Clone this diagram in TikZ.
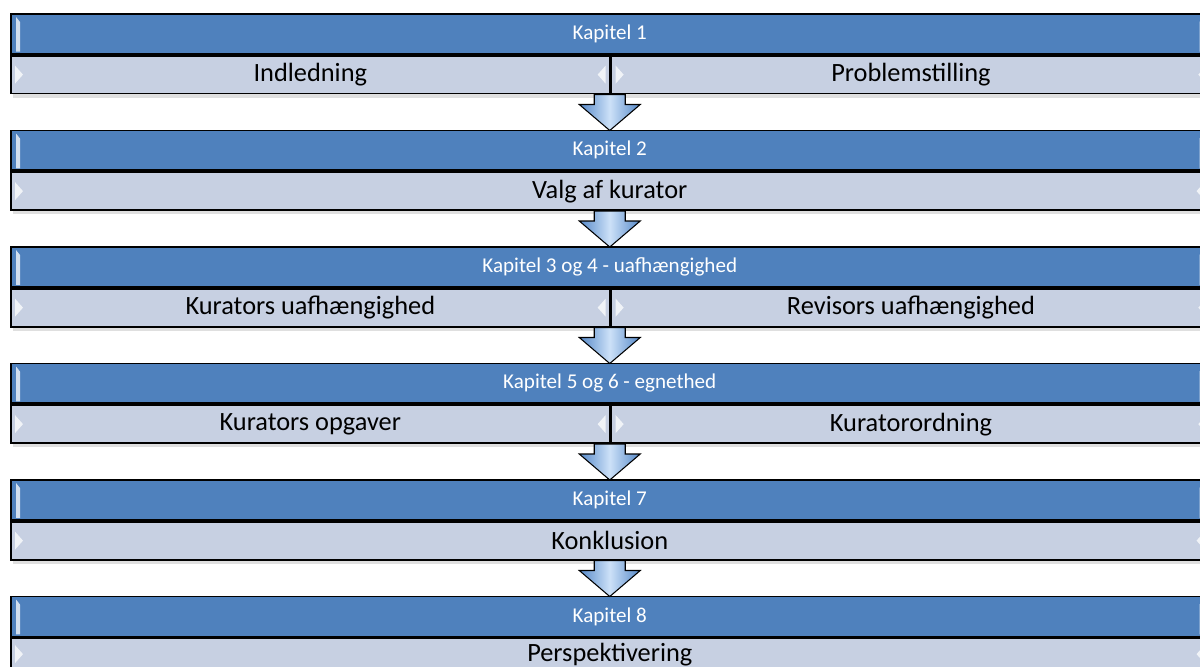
\documentclass[tikz,border=0pt]{standalone}
\usepackage{fontspec}
\setmainfont{Carlito}
\usetikzlibrary{calc,shadows}

\definecolor{kapblue}{RGB}{79,129,189}
\definecolor{kaplight}{RGB}{199,208,226}
\definecolor{pilblue}{RGB}{84,136,200}
\definecolor{pilglow}{RGB}{205,225,248}

\tikzset{
  header/.style={draw=black, line width=1pt, fill=kapblue, text=white,
    minimum width=23.96cm, minimum height=0.8cm, inner sep=0pt,
    anchor=north west, font=\fontsize{12}{14}\selectfont,
    drop shadow={opacity=0.25, shadow xshift=0.5mm, shadow yshift=-0.8mm}},
  fullrow/.style={draw=black, line width=1pt, fill=kaplight, text=black,
    minimum width=23.96cm, minimum height=0.76cm, inner sep=0pt,
    anchor=north west, font=\fontsize{15}{17}\selectfont,
    drop shadow={opacity=0.25, shadow xshift=0.5mm, shadow yshift=-0.8mm}},
  halfrow/.style={fullrow, minimum width=11.98cm},
  pil/.style={draw=black, line width=0.6pt, shading=axis,
    left color=pilblue, right color=pilblue, middle color=pilglow},
  glint/.style={fill=white, opacity=0.75, draw=none}
}

\newcommand{\kapitel}[3]{%
  \node[header] (h#1) at (10,#2) {#3};
  \fill[glint] ($(h#1.north west)+(6,4)$) -- ($(h#1.north west)+(10,9)$)
    -- ($(h#1.south west)+(10,-3)$) -- ($(h#1.south west)+(6,-3)$) -- cycle;
  \fill[glint] ($(h#1.north east)+(-6,4)$) -- ($(h#1.north east)+(-10,9)$)
    -- ($(h#1.south east)+(-10,-3)$) -- ($(h#1.south east)+(-6,-3)$) -- cycle;
}
\newcommand{\spidsh}[1]{% triangle pointing right, west side of a cell
  \fill[glint] ($(#1.west)+(5,-9)$) -- ($(#1.west)+(13,0)$) -- ($(#1.west)+(5,9)$) -- cycle;}
\newcommand{\spidsv}[1]{% triangle pointing left, east side of a cell
  \fill[glint] ($(#1.east)+(-5,-9)$) -- ($(#1.east)+(-13,0)$) -- ($(#1.east)+(-5,9)$) -- cycle;}

\begin{document}
\begin{tikzpicture}[x=0.02cm, y=-0.02cm]
\useasboundingbox (0,0) rectangle (1200,666);
\clip (0,0) rectangle (1200,666);

\kapitel{1}{13}{Kapitel 1}
\node[halfrow] (s1) at (h1.south west) {Indledning};
\node[halfrow] (t1) at (s1.north east) {Problemstilling};

\kapitel{2}{129.5}{Kapitel 2}
\node[fullrow] (s2) at (h2.south west) {Valg af kurator};

\kapitel{3}{246}{Kapitel 3 og 4 - uafhængighed}
\node[halfrow] (s3) at (h3.south west) {Kurators uafhængighed};
\node[halfrow] (t3) at (s3.north east) {Revisors uafhængighed};

\kapitel{4}{362.5}{Kapitel 5 og 6 - egnethed}
\node[halfrow] (s4) at (h4.south west) {Kurators opgaver};
\node[halfrow] (t4) at (s4.north east) {Kuratorordning};

\kapitel{5}{479}{Kapitel 7}
\node[fullrow] (s5) at (h5.south west) {Konklusion};

\kapitel{6}{595.5}{Kapitel 8}
\node[fullrow, minimum height=0.64cm] (s6) at (h6.south west) {Perspektivering};

\foreach \c in {s1,t1,s2,s3,t3,s4,t4,s5,s6}{
  \spidsh{\c}
  \spidsv{\c}
}

\foreach \i/\j in {1/2,2/3,3/4,4/5,5/6}{
  \path (h\i |- s\i.south) coordinate (a) (h\j.north) coordinate (b);
  \draw[pil] ($(a)+(-15.5,0)$) -- ($(a)+(15.5,0)$) -- ($(a)+(15.5,10)$)
    -- ($(a)+(30.5,10)$) -- ($(b)+(0,1)$) -- ($(a)+(-30.5,10)$)
    -- ($(a)+(-15.5,10)$) -- cycle;
}
\end{tikzpicture}
\end{document}
